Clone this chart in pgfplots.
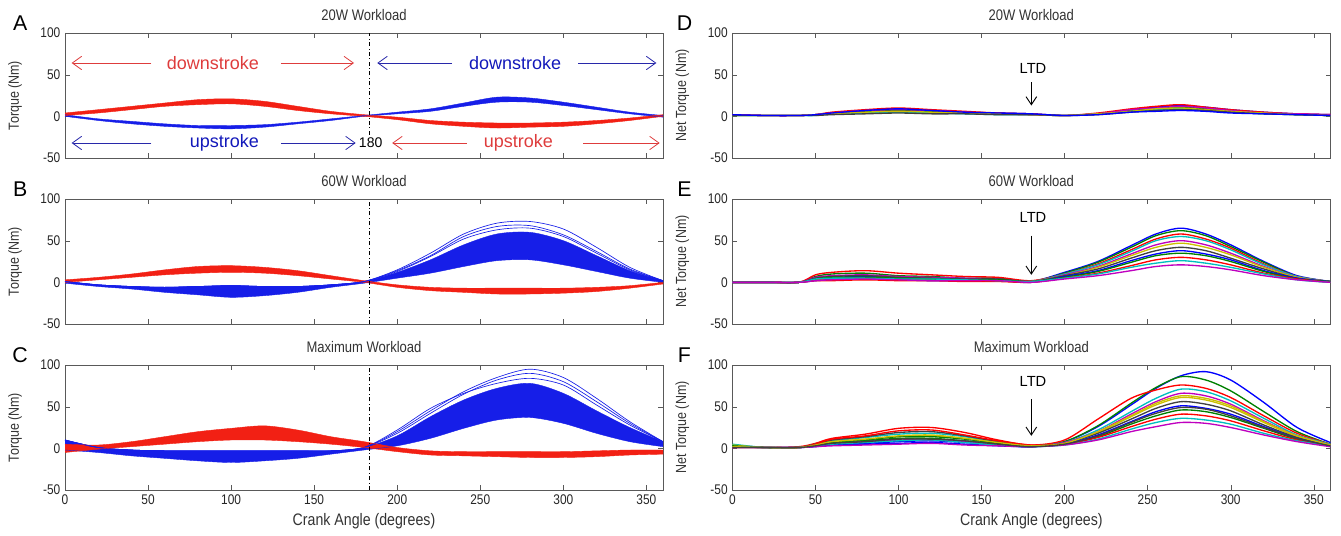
\documentclass[border=0pt]{standalone}
\usepackage{fontspec}
\setmainfont[FakeStretch=0.85]{Liberation Sans}
\newfontfamily\annfont{Liberation Sans}
\usepackage{pgfplots}
\usepackage{pgfplotstable}
\pgfplotsset{compat=1.18}
\usepgfplotslibrary{groupplots,fillbetween}
\usetikzlibrary{arrows.meta}

\definecolor{mred}{RGB}{242,32,20}
\definecolor{mblue}{RGB}{22,30,232}
\definecolor{annred}{RGB}{222,60,60}
\definecolor{annblue}{RGB}{40,40,170}
\definecolor{m1}{rgb}{0,0,1}
\definecolor{m2}{rgb}{0,0.5,0}
\definecolor{m3}{rgb}{1,0,0}
\definecolor{m4}{rgb}{0,0.75,0.75}
\definecolor{m5}{rgb}{0.75,0,0.75}
\definecolor{m6}{rgb}{0.8,0.75,0}
\definecolor{m7}{rgb}{0.25,0.25,0.25}
\pgfplotscreateplotcyclelist{matlab}{m1\\m2\\m3\\m4\\m5\\m6\\m7\\}

% left panels: red / blue bands (upper, lower) and a few single blue traces
\pgfplotstableread{
x   ru  rl  bu  bl
0   4   1   2   0
20  8   4   -3  -5
40  12  8   -6  -9
60  16  12  -9  -12
80  20  14  -11 -14
100 21  15  -11 -15
120 18  12  -10 -13
140 12  7   -7  -9
160 6   3   -3  -5
180 2   0   1   0
200 -1  -4  5   3
220 -5  -9  9   6
240 -7  -12 16  12
260 -8  -14 23  17
280 -8  -13 22  17
300 -7  -12 17  13
320 -5  -9  11  8
340 -2  -5  5   3
360 2   0   1   -1
}\tabA

\pgfplotstableread{
x   ru  rl  bu  bl  t1  t2  t3
0   3   0   1   -1  1   1   1
20  6   3   -3  -5  -3  -3  -3
40  10  6   -5  -8  -5  -5  -5
60  15  9   -6  -12 -6  -6  -6
80  19  11  -5  -15 -5  -5  -5
100 20  12  -4  -18 -4  -4  -4
120 18  11  -5  -16 -5  -5  -5
140 14  8   -5  -12 -5  -5  -5
160 8   4   -3  -6  -3  -3  -3
180 2   0   1   -1  1   1   1
200 -3  -6  12  5   15  14  13
220 -6  -10 27  11  35  32  31
240 -7  -12 45  19  58  55  52
260 -7  -14 58  26  71  67  63
280 -7  -14 60  27  73  68  65
300 -7  -13 50  21  64  57  55
320 -6  -11 32  13  42  37  35
340 -4  -7  14  5   18  16  15
360 0   -2  2   0   2   2   2
}\tabB

\pgfplotstableread{
x   ru  rl  bu  bl  t1  t2  t3
0   5   -5  10  -2  10  10  10
20  4   -1  1   -5  1   1   1
40  8   2   -2  -9  -2  -2  -2
60  14  5   -3  -12 -3  -3  -3
80  20  8   -3  -15 -3  -3  -3
100 24  10  -3  -17 -3  -3  -3
120 27  10  -3  -15 -3  -3  -3
140 22  8   -3  -12 -3  -3  -3
160 14  5   -3  -7  -3  -3  -3
180 8   1   1   -2  1   1   1
200 1   -4  15  3   20  18  22
220 -3  -8  38  12  45  42  48
240 -4  -9  58  24  68  65  66
260 -4  -10 72  34  85  82  78
280 -4  -11 78  37  95  90  84
300 -4  -11 66  30  85  80  76
320 -3  -10 45  18  60  56  52
340 -2  -8  25  8   32  30  28
360 -2  -7  8   2   8   8   8
}\tabC

% right panels: individual net torque traces
\pgfplotstableread{
x   c1 c2 c3 c4 c5 c6 c7 c8
0   2  1  2  1  2  1  1  2
20  1  1  1  1  1  1  1  1
40  1  1  1  1  1  1  1  1
50  2  2  2  1  2  2  1  2
60  4  3  5  3  4  3  2  4
80  7  6  8  4  7  5  3  7
100 9  7  10 5  8  6  4  9
120 7  6  8  4  7  5  3  7
140 5  4  6  3  5  4  3  5
160 4  3  4  2  3  3  2  4
180 3  2  3  2  2  2  2  3
200 1  1  1  1  1  1  1  1
220 3  3  4  3  3  3  2  2
240 8  7  9  6  8  6  5  5
255 11 9  12 8  10 9  7  6
270 13 11 14 9  12 10 8  7
285 11 9  11 7  10 8  7  6
300 8  7  8  5  7  6  5  4
320 5  4  5  3  4  4  3  3
340 3  2  3  2  3  2  2  2
360 2  1  2  1  2  1  1  1
}\tabD

\pgfplotstableread{
x   c1 c2 c3 c4 c5 c6 c7 c8 c9 c10 c11 c12
0   0  0  0  0  0  0  0  0  0  0   0   0
20  0  0  0  0  0  0  0  0  0  0   0   0
40  0  0  0  0  0  0  0  0  0  0   0   0
50  5  7  9  4  6  3  5  2  4  2   4   2
60  6  10 12 5  8  4  7  3  6  2   5   3
80  7  11 14 5  9  5  8  4  6  3   5   4
100 6  8  11 4  7  4  6  3  5  2   4   3
120 5  7  9  4  6  3  5  2  4  2   4   2
140 4  5  7  3  5  2  4  2  3  1   3   2
160 3  5  6  2  4  2  4  2  3  1   2   2
180 1  1  2  1  1  1  1  0  1  0   1   0
200 12 11 10 10 9  8  8  7  6  5   5   4
220 25 24 22 21 19 18 16 14 13 11  10  8
240 44 42 39 37 34 32 29 26 24 20  18  14
255 58 56 52 50 45 42 38 34 32 27  23  19
270 65 62 58 55 50 47 42 38 35 30  26  21
285 58 56 52 50 45 42 38 34 32 27  23  19
300 45 43 41 39 35 33 29 27 25 21  18  15
320 25 24 22 21 19 18 16 14 13 11  10  8
340 8  7  7  7  6  6  5  5  4  4   3   3
360 1  1  1  1  1  1  1  1  1  0   0   0
}\tabE

\pgfplotstableread{
x   c1 c2 c3 c4 c5 c6 c7 c8 c9 c10 c11 c12 c13 c14
0   4  3  2  5  1  4  1  2  3  1   2   1   2   1
20  1  1  1  1  1  1  1  1  1  1   1   1   1   1
40  1  1  2  1  1  1  1  1  1  1   1   1   1   1
50  3  3  6  5  3  4  5  2  4  5   3   2   4   3
60  5  6  12 9  6  8  10 4  7  11  5   3   8   6
80  6  9  17 13 8  11 14 5  10 15  7   4   11  8
100 8  12 24 17 10 14 19 6  14 21  9   5   15  11
120 9  12 25 18 10 15 20 7  14 22  10  6   16  11
140 7  9  19 14 8  12 15 5  11 16  7   4   12  9
160 4  5  10 7  5  6  8  3  6  9   4   3   7   5
180 2  2  4  3  2  3  3  2  3  4   2   2   3   2
200 8  8  10 7  7  6  6  5  5  5   4   4   6   5
220 26 27 35 22 20 19 18 16 14 13  11  10  20  15
240 52 54 60 44 41 38 35 32 29 26  23  20  39  31
255 72 73 70 60 56 52 48 44 39 35  31  26  54  42
270 87 86 76 71 66 61 56 51 46 41  36  31  63  49
285 92 82 72 68 63 58 53 48 44 39  34  30  60  47
300 82 69 61 57 53 49 45 41 37 33  29  25  51  39
320 55 44 39 36 33 31 28 26 24 21  18  16  32  25
340 25 20 18 16 15 14 13 12 11 10  9   8   15  12
360 7  5  5  5  4  4  4  3  3  3   3   2   4   3
}\tabF

\tikzset{
  annarrow/.style={line width=0.6pt, -{Straight Barb[length=7pt,width=10pt]}},
  ltdarrow/.style={line width=0.7pt, -{Straight Barb[length=6pt,width=8pt]}},
}

\begin{document}
\begin{tikzpicture}
\begin{groupplot}[
    group style={group size=2 by 3, horizontal sep=52pt, vertical sep=30.75pt,
                 xticklabels at=edge bottom, group name=G},
    scale only axis, width=448.5pt, height=93.75pt,
    xmin=0, xmax=360, ymin=-50, ymax=100,
    xtick={0,50,...,350}, ytick={-50,0,50,100},
    tick align=inside, major tick length=3.5pt,
    axis line style={black!65}, tick style={black!65},
    clip=false,
    /pgf/number format/assume math mode=true,
    ticklabel style={font=\fontsize{10.5}{12}\selectfont, text=black!85},
    title style={at={(0.5,1.144)}, anchor=center, yshift=-6pt, font=\fontsize{11.5}{13}\selectfont, text=black!80},
    ylabel style={at={(axis description cs:-0.0836,0.5)}, anchor=center, font=\fontsize{11}{13}\selectfont, text=black!80},
    xlabel style={at={(axis description cs:0.5,-0.248)}, anchor=center, font=\fontsize{12.5}{14}\selectfont, text=black!80},
]
% ---- A ----
\nextgroupplot[title={20W Workload}, ylabel={Torque (Nm)}]
\addplot[name path=bu, mblue, line width=0.3pt, smooth] table[x=x,y=bu]{\tabA};
\addplot[name path=bl, mblue, line width=0.3pt, smooth] table[x=x,y=bl]{\tabA};
\addplot[fill=mblue, draw=none] fill between[of=bu and bl];
\addplot[name path=ru, mred, line width=0.3pt, smooth] table[x=x,y=ru]{\tabA};
\addplot[name path=rl, mred, line width=0.3pt, smooth] table[x=x,y=rl]{\tabA};
\addplot[fill=mred, draw=none] fill between[of=ru and rl];
\addplot[black, dash dot, line width=0.6pt] coordinates {(183,-22) (183,100)};
\draw[annred, annarrow] (axis cs:52,64) -- (axis cs:4,64);
\draw[annred, annarrow] (axis cs:130,64) -- (axis cs:174,64);
\node[annred, font=\annfont\fontsize{13.5}{15}\selectfont] at (axis cs:89,64) {downstroke};
\draw[annblue, annarrow] (axis cs:233,64) -- (axis cs:188,64);
\draw[annblue, annarrow] (axis cs:309,64) -- (axis cs:356,64);
\node[mblue!80!black, font=\annfont\fontsize{13.5}{15}\selectfont] at (axis cs:271,64) {downstroke};
\draw[annblue, annarrow] (axis cs:52,-32) -- (axis cs:4,-32);
\draw[annblue, annarrow] (axis cs:130,-32) -- (axis cs:175,-32);
\node[mblue!80!black, font=\annfont\fontsize{13.5}{15}\selectfont] at (axis cs:96,-32) {upstroke};
\node[font=\annfont\fontsize{10.5}{12}\selectfont] at (axis cs:184,-32) {180};
\draw[annred, annarrow] (axis cs:242,-32) -- (axis cs:197,-32);
\draw[annred, annarrow] (axis cs:312,-32) -- (axis cs:358,-32);
\node[annred, font=\annfont\fontsize{13.5}{15}\selectfont] at (axis cs:273,-32) {upstroke};
\node[font=\annfont\fontsize{16}{18}\selectfont] at (rel axis cs:-0.075,1.075) {A};
% ---- D ----
\nextgroupplot[title={20W Workload}, ylabel={Net Torque (Nm)}, cycle list name=matlab]
\pgfplotsinvokeforeach{1,...,8}{
  \addplot+[no markers, smooth, line width=1pt] table[x=x,y=c#1]{\tabD};
}
\draw[ltdarrow] (axis cs:180,41) -- (axis cs:180,13);
\node[font=\annfont\fontsize{11}{13}\selectfont] at (axis cs:181,58) {LTD};
\node[font=\annfont\fontsize{16}{18}\selectfont] at (rel axis cs:-0.08,1.075) {D};
% ---- B ----
\nextgroupplot[title={60W Workload}, ylabel={Torque (Nm)}]
\addplot[name path=bu, mblue, line width=0.3pt, smooth] table[x=x,y=bu]{\tabB};
\addplot[name path=bl, mblue, line width=0.3pt, smooth] table[x=x,y=bl]{\tabB};
\addplot[fill=mblue, draw=none] fill between[of=bu and bl];
\addplot[mblue, line width=0.5pt, smooth] table[x=x,y=t1]{\tabB};
\addplot[mblue, line width=0.5pt, smooth] table[x=x,y=t2]{\tabB};
\addplot[mblue, line width=0.5pt, smooth] table[x=x,y=t3]{\tabB};
\addplot[name path=ru, mred, line width=0.3pt, smooth] table[x=x,y=ru]{\tabB};
\addplot[name path=rl, mred, line width=0.3pt, smooth] table[x=x,y=rl]{\tabB};
\addplot[fill=mred, draw=none] fill between[of=ru and rl];
\addplot[black, dash dot, line width=0.6pt] coordinates {(183,-50) (183,100)};
\node[font=\annfont\fontsize{16}{18}\selectfont] at (rel axis cs:-0.075,1.075) {B};
% ---- E ----
\nextgroupplot[title={60W Workload}, ylabel={Net Torque (Nm)}, cycle list name=matlab]
\pgfplotsinvokeforeach{1,...,12}{
  \addplot+[no markers, smooth, line width=1pt] table[x=x,y=c#1]{\tabE};
}
\draw[ltdarrow] (axis cs:180,56) -- (axis cs:180,9);
\node[font=\annfont\fontsize{11}{13}\selectfont] at (axis cs:181,78) {LTD};
\node[font=\annfont\fontsize{16}{18}\selectfont] at (rel axis cs:-0.08,1.075) {E};
% ---- C ----
\nextgroupplot[title={Maximum Workload}, ylabel={Torque (Nm)}, xlabel={Crank Angle (degrees)}]
\addplot[name path=bu, mblue, line width=0.3pt, smooth] table[x=x,y=bu]{\tabC};
\addplot[name path=bl, mblue, line width=0.3pt, smooth] table[x=x,y=bl]{\tabC};
\addplot[fill=mblue, draw=none] fill between[of=bu and bl];
\addplot[mblue, line width=0.5pt, smooth] table[x=x,y=t1]{\tabC};
\addplot[mblue, line width=0.5pt, smooth] table[x=x,y=t2]{\tabC};
\addplot[mblue, line width=0.5pt, smooth] table[x=x,y=t3]{\tabC};
\addplot[name path=ru, mred, line width=0.3pt, smooth] table[x=x,y=ru]{\tabC};
\addplot[name path=rl, mred, line width=0.3pt, smooth] table[x=x,y=rl]{\tabC};
\addplot[fill=mred, draw=none] fill between[of=ru and rl];
\addplot[black, dash dot, line width=0.6pt] coordinates {(183,-50) (183,100)};
\node[font=\annfont\fontsize{16}{18}\selectfont] at (rel axis cs:-0.075,1.075) {C};
% ---- F ----
\nextgroupplot[title={Maximum Workload}, ylabel={Net Torque (Nm)}, xlabel={Crank Angle (degrees)}, cycle list name=matlab]
\pgfplotsinvokeforeach{1,...,14}{
  \addplot+[no markers, smooth, line width=1pt] table[x=x,y=c#1]{\tabF};
}
\draw[ltdarrow] (axis cs:180,59) -- (axis cs:180,15);
\node[font=\annfont\fontsize{11}{13}\selectfont] at (axis cs:181,80) {LTD};
\node[font=\annfont\fontsize{16}{18}\selectfont] at (rel axis cs:-0.08,1.075) {F};
\end{groupplot}
\pgfresetboundingbox
\path[use as bounding box] ([shift={(-48.75pt,24.75pt)}]G c1r1.north west) rectangle ([shift={(8pt,-33.75pt)}]G c2r3.south east);
\end{tikzpicture}
\end{document}
